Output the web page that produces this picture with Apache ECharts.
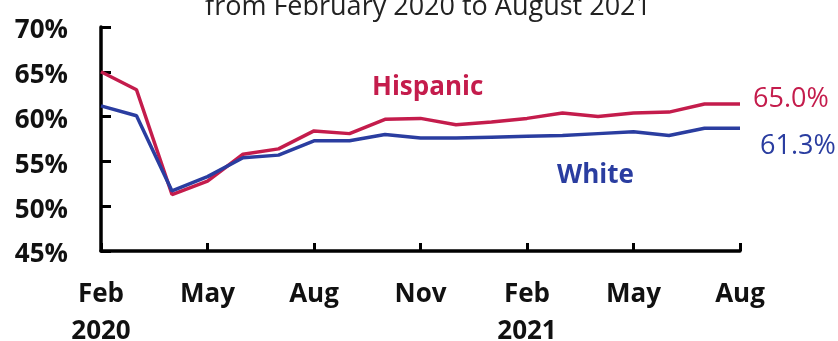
<!DOCTYPE html>
<html lang="en">
<head>
    <meta charset="UTF-8">
    <title>Hispanic / White</title>
    <script src="https://cdn.jsdelivr.net/npm/echarts@6/dist/echarts.min.js"></script>
    <style>
        html, body { margin: 0; padding: 0; background: #fff; }
        #main { width: 838px; height: 341px; }
    </style>
</head>
<body>
<div id="main"></div>
<script type="text/javascript">
    // months, Feb 2020 .. Aug 2021
    var months = ['Feb\n2020', 'Mar', 'Apr', 'May', 'Jun', 'Jul', 'Aug', 'Sep', 'Oct', 'Nov', 'Dec',
        'Jan', 'Feb\n2021', 'Mar', 'Apr', 'May', 'Jun', 'Jul', 'Aug'];
    var hispanic = [65.0, 63.0, 51.3, 52.8, 55.8, 56.4, 58.4, 58.1, 59.7, 59.8, 59.1,
        59.4, 59.8, 60.4, 60.0, 60.4, 60.5, 61.4, 61.4];
    var white = [61.2, 60.1, 51.7, 53.3, 55.4, 55.7, 57.3, 57.3, 58.0, 57.6, 57.6,
        57.7, 57.8, 57.9, 58.1, 58.3, 57.9, 58.7, 58.7];
    var seriesNames = ['Hispanic', 'White'];
    var endTexts = ['65.0%', '61.3%'];
    var titleText = 'from February 2020 to August 2021';

    var red = '#C41C4C';
    var blue = '#2A3DA0';
    var fontFam = '"Open Sans", "Noto Sans", sans-serif';

    var myChart = echarts.init(document.getElementById('main'));
    var option = {
        animation: false,
        grid: { left: 101, right: 98, top: 27, bottom: 90, outerBoundsMode: 'none', containLabel: false },
        xAxis: {
            type: 'category',
            data: months,
            boundaryGap: false,
            axisLine: { lineStyle: { color: '#000', width: 3.5 } },
            axisTick: { inside: true, length: 8, interval: 2, lineStyle: { color: '#000', width: 3 } },
            axisLabel: {
                interval: 2,
                margin: 25,
                color: '#111',
                fontFamily: fontFam,
                fontWeight: 'bold',
                fontSize: 26,
                lineHeight: 37
            },
            splitLine: { show: false }
        },
        yAxis: {
            type: 'value',
            min: 45,
            max: 70,
            interval: 5,
            axisLine: { show: true, lineStyle: { color: '#000', width: 3.5 } },
            axisTick: { show: true, inside: true, length: 10, lineStyle: { color: '#000', width: 3 } },
            axisLabel: {
                formatter: '{value}%',
                margin: 33,
                verticalAlign: 'top',
                lineHeight: 8,
                color: '#111',
                fontFamily: fontFam,
                fontWeight: 'bold',
                fontSize: 26
            },
            splitLine: { show: false }
        },
        series: [
            {
                name: seriesNames[0],
                type: 'line',
                data: hispanic,
                showSymbol: false,
                symbol: 'none',
                lineStyle: { color: red, width: 3.5 },
                endLabel: {
                    show: true,
                    formatter: endTexts[0],
                    color: red,
                    fontFamily: fontFam,
                    fontSize: 27,
                    offset: [5, -5]
                }
            },
            {
                name: seriesNames[1],
                type: 'line',
                data: white,
                showSymbol: false,
                symbol: 'none',
                lineStyle: { color: blue, width: 3.5 },
                endLabel: {
                    show: true,
                    formatter: endTexts[1],
                    color: blue,
                    fontFamily: fontFam,
                    fontSize: 27,
                    offset: [12, 18]
                }
            }
        ],
        graphic: [
            {
                type: 'text',
                x: 428, y: 21,
                style: {
                    text: titleText, fill: '#222',
                    font: '27px ' + fontFam,
                    align: 'center', verticalAlign: 'bottom'
                }
            },
            {
                type: 'text',
                x: 372, y: 88,
                style: {
                    text: seriesNames[0], fill: red,
                    font: 'bold 26px ' + fontFam,
                    align: 'left', verticalAlign: 'middle'
                }
            },
            {
                type: 'text',
                x: 557, y: 176,
                style: {
                    text: seriesNames[1], fill: blue,
                    font: 'bold 26px ' + fontFam,
                    align: 'left', verticalAlign: 'middle'
                }
            }
        ]
    };
    myChart.setOption(option);
</script>
</body>
</html>
